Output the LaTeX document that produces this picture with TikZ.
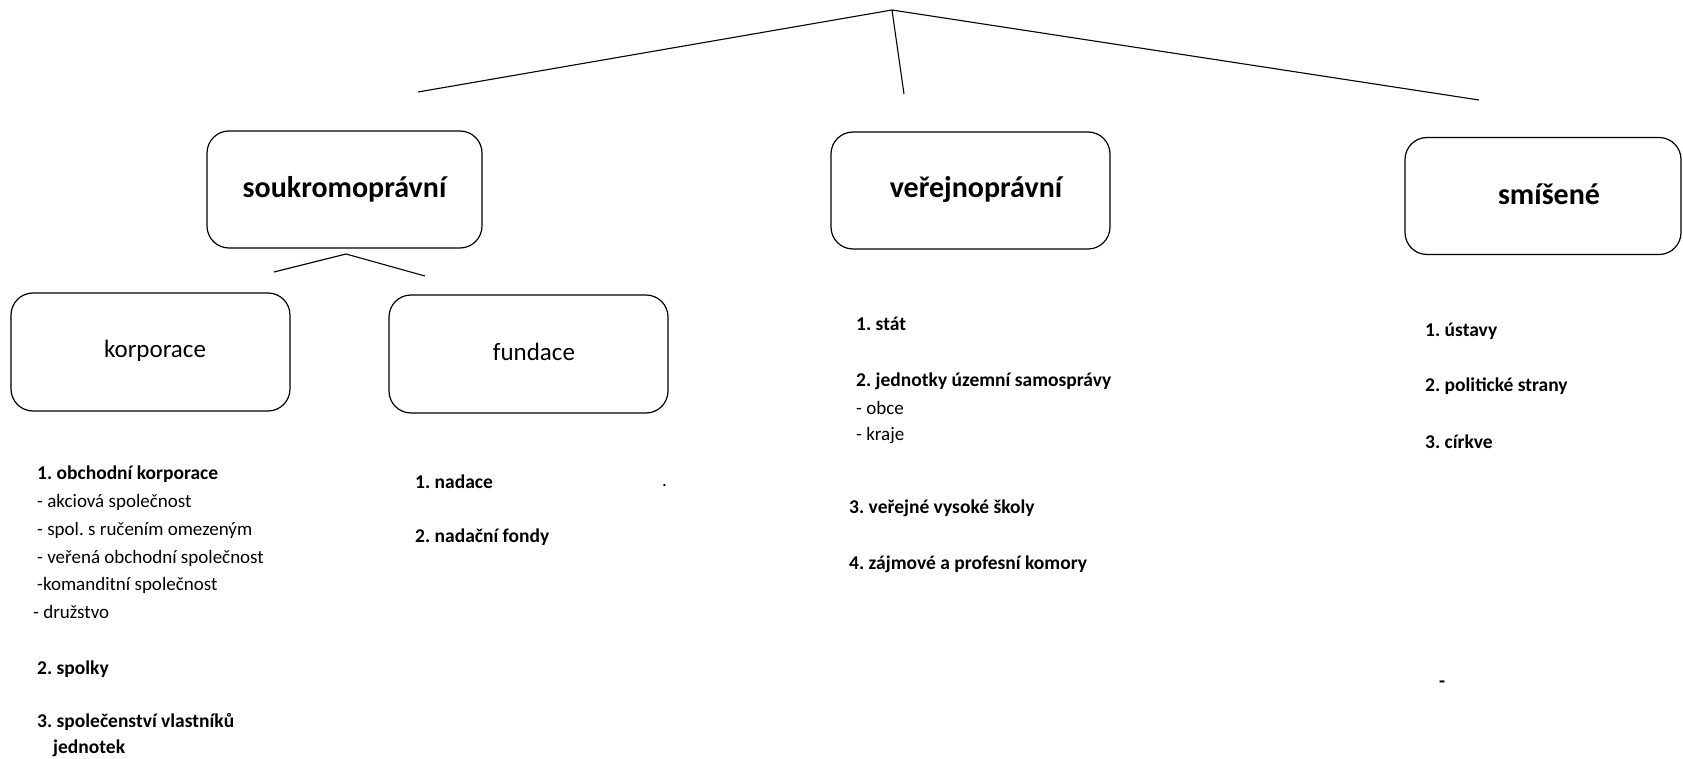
\documentclass[tikz,border=0pt]{standalone}
\usepackage{fontspec}
\setmainfont{Carlito}
\frenchspacing
\begin{document}
\begin{tikzpicture}[x=1pt,y=-1pt,
  catbox/.style={draw=black, line width=1.2pt, rounded corners=22pt, inner sep=0pt, minimum height=117pt},
  maintitle/.style={font=\fontsize{30}{36}\selectfont\bfseries},
  subtitle/.style={font=\fontsize{25}{30}\selectfont},
  itemb/.style={anchor=west, inner sep=0pt, font=\fontsize{19.5}{24}\selectfont\bfseries},
  itemr/.style={anchor=west, inner sep=0pt, font=\fontsize{19}{24}\selectfont},
  conn/.style={line width=1.1pt, draw=black}]
\useasboundingbox (0,0) rectangle (1683,759);
% tree lines
\coordinate (apex) at (892,10);
\coordinate (lend) at (418,92);
\coordinate (mend) at (904,94);
\coordinate (rend) at (1479,100);
\draw[conn] (lend) -- (apex) -- (rend);
\draw[conn] (apex) -- (mend);
% category boxes
\node[catbox, minimum width=275pt] (soukr) at (344.5,189.5) {};
\node[maintitle] (soukrT) at (344.5,189) {soukromoprávní};
\node[catbox, minimum width=279pt] (verej) at (970.5,190.5) {};
\node[maintitle] (verejT) at (976,190) {veřejnoprávní};
\node[catbox, minimum width=276pt] (smis) at (1543,196) {};
\node[maintitle] (smisT) at (1549,194) {smíšené};
% small V under soukromoprávní
\coordinate (vapex) at (346,254);
\coordinate (vl) at (274,272);
\coordinate (vr) at (425,276);
\draw[conn] (vl) -- (vapex) -- (vr);
% sub boxes
\node[catbox, minimum width=279pt, minimum height=118pt] (korp) at (150.5,352) {};
\node[subtitle] (korpT) at (155,351) {korporace};
\node[catbox, minimum width=279pt, minimum height=118pt] (fund) at (528.5,354) {};
\node[subtitle] (fundT) at (534,352) {fundace};
% korporace list
\node[itemb] (k1) at (37,474) {1. obchodní korporace};
\node[itemr] (k1a) at (37,502) {- akciová společnost};
\node[itemr] (k1b) at (37,530) {- spol. s ručením omezeným};
\node[itemr] (k1c) at (37,558) {- veřená obchodní společnost};
\node[itemr] (k1d) at (37,585) {-komanditní společnost};
\node[itemr] (k1e) at (33,612) {- družstvo};
\node[itemb] (k2) at (37,669) {2. spolky};
\node[itemb] (k3) at (37,722) {3. společenství vlastníků};
\node[itemb] (k3b) at (53,748) {jednotek};
% fundace list
\node[itemb] (f1) at (415,482) {1. nadace};
\node[itemr] (fdot) at (662,485) {.};
\node[itemb] (f2) at (415,537) {2. nadační fondy};
% verejnopravni list
\node[itemb] (v1) at (856,324) {1. stát};
\node[itemb] (v2) at (856,381) {2. jednotky územní samosprávy};
\node[itemr] (v2a) at (856,408) {- obce};
\node[itemr] (v2b) at (856,436) {- kraje};
\node[itemb] (v3) at (849,508) {3. veřejné vysoké školy};
\node[itemb] (v4) at (849,564) {4. zájmové a profesní komory};
% smisene list
\node[itemb] (s1) at (1425,331) {1. ústavy};
\node[itemb] (s2) at (1425,386) {2. politické strany};
\node[itemb] (s3) at (1425,442) {3. církve};
\node[itemb] (sdash) at (1439,684) {-};
\end{tikzpicture}
\end{document}
